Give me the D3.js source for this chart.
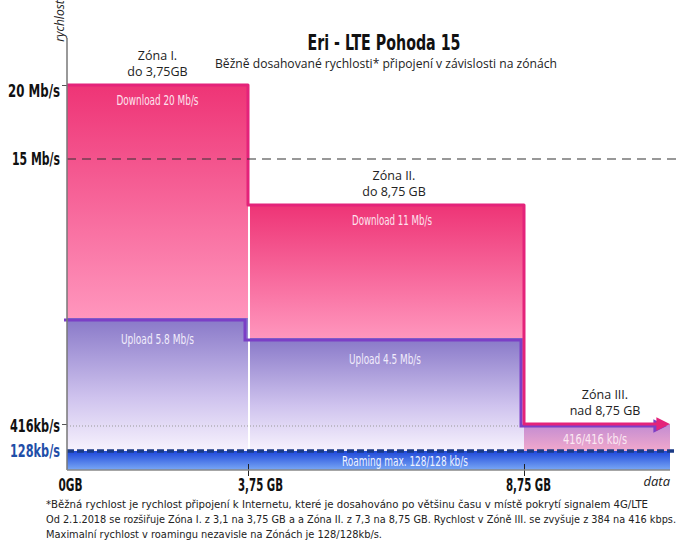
<!DOCTYPE html>
<html>
<head>
<meta charset="utf-8">
<script src="https://cdn.jsdelivr.net/npm/d3@7"></script>
<style>
  body { margin: 0; background: #fff; }
  .cond { font-family: 'Liberation Sans Narrow', 'DejaVu Sans Condensed', sans-serif; font-stretch: condensed; }
  .hum { font-family: 'Open Sans', 'Noto Sans', sans-serif; }
</style>
</head>
<body>
<div id="chart"></div>
<script>
// zones and speeds (Mb/s)
var zoneNames = ["Zóna I.", "Zóna II.", "Zóna III."]
var zoneLimits = ["do 3,75GB", "do 8,75 GB", "nad 8,75 GB"]
var zoneStart = [0, 3.75, 8.75]
var dataEnd = 11.4
var download = [20, 11, 0.416]
var upload = [5.8, 4.5, 0.416]
var downloadLabels = ["Download 20 Mb/s", "Download 11 Mb/s"]
var uploadLabels = ["Upload 5.8 Mb/s", "Upload 4.5 Mb/s"]
var zone3Label = "416/416 kb/s"
var roaming = 0.128
var roamingLabel = "Roaming max. 128/128 kb/s"

var yTicks = [20, 15, 0.416, 0.128]
var yTickLabels = ["20 Mb/s", "15 Mb/s", "416kb/s", "128kb/s"]
var xTicks = [0, 3.75, 8.75]
var xTickLabels = ["0GB", "3,75 GB", "8,75 GB"]

var footnotes = [
  "*Běžná rychlost je rychlost připojení k Internetu, které je dosahováno po většinu času v místě pokrytí signalem 4G/LTE",
  "Od 2.1.2018 se rozšiřuje Zóna I. z 3,1 na 3,75 GB a a Zóna II. z 7,3 na 8,75 GB. Rychlost  v Zóně III. se zvyšuje z 384 na 416 kbps.",
  "Maximalní rychlost v roamingu  nezavisle na Zónách je 128/128kb/s."
]

var fullWidth = 677
var fullHeight = 542

var svg = d3.select("#chart").append("svg")
  .attr("width", fullWidth)
  .attr("height", fullHeight)

// schematic (non-linear) scales, as in the original picture
var x = d3.scaleLinear()
  .domain([0, 3.75, 8.75, dataEnd])
  .range([67, 248, 524, 670])
var y = d3.scaleLinear()
  .domain([0, 0.128, 0.416, 4.5, 5.8, 11, 15, 20])
  .range([470, 451, 424, 338, 318, 205, 159, 85])

var defs = svg.append("defs")
function grad(id, stops) {
  var g = defs.append("linearGradient").attr("id", id)
    .attr("x1", 0).attr("y1", 0).attr("x2", 0).attr("y2", 1)
  stops.forEach(s => g.append("stop").attr("offset", s[0]).attr("stop-color", s[1]))
}
grad("dlGrad", [[0, "#ee3476"], [1, "#ff96bd"]])
grad("ulGrad", [[0, "#8878c8"], [0.6, "#cfc3ee"], [1, "#f7f2fd"]])
grad("z3Grad", [[0, "#c28bd2"], [1, "#f1a9cc"]])
grad("roamGrad", [[0, "#1c46da"], [1, "#7aa8f5"]])

function marker(id, color) {
  defs.append("marker").attr("id", id)
    .attr("viewBox", "0 0 10 10").attr("refX", 6).attr("refY", 5)
    .attr("markerWidth", 4.5).attr("markerHeight", 4.5).attr("orient", "auto")
    .attr("markerUnits", "strokeWidth")
    .append("path").attr("d", "M0,0L10,5L0,10z").attr("fill", color)
}
marker("arrPink", "#e4237a")
marker("arrPurple", "#7b3fc6")

var zones = [0, 1]
var zoneEnd = [3.75, 8.75, dataEnd]

// download areas
svg.selectAll(".dl").data(zones).enter().append("rect")
  .attr("class", "dl")
  .attr("x", i => x(zoneStart[i]) + (i ? 2 : 0))
  .attr("y", i => y(download[i]))
  .attr("width", i => x(zoneEnd[i]) - x(zoneStart[i]) - (i ? 2 : 0))
  .attr("height", i => y(upload[i]) - y(download[i]))
  .attr("fill", "url(#dlGrad)")

// upload areas
svg.selectAll(".ul").data(zones).enter().append("rect")
  .attr("class", "ul")
  .attr("x", i => x(zoneStart[i]) + (i ? 2 : 0))
  .attr("y", i => y(upload[i]))
  .attr("width", i => x(zoneEnd[i]) - x(zoneStart[i]) - (i ? 2 : 0))
  .attr("height", i => y(roaming) - y(upload[i]))
  .attr("fill", "url(#ulGrad)")

// zone III
svg.append("rect")
  .attr("x", x(zoneStart[2]))
  .attr("y", y(download[2]))
  .attr("width", x(dataEnd) - x(zoneStart[2]))
  .attr("height", y(roaming) - y(download[2]))
  .attr("fill", "url(#z3Grad)")

// white gap between zone I and II (upload part)
svg.append("line")
  .attr("x1", x(3.75) + 1).attr("x2", x(3.75) + 1)
  .attr("y1", y(upload[0]) + 2).attr("y2", y(roaming))
  .attr("stroke", "#fff").attr("stroke-width", 2)

// 416 kb/s dotted line
svg.append("line")
  .attr("x1", x(0)).attr("x2", x(8.75))
  .attr("y1", y(0.416) + 2).attr("y2", y(0.416) + 2)
  .attr("stroke", "#999").attr("stroke-width", 1).attr("stroke-dasharray", "1,2")

// roaming band
svg.append("rect")
  .attr("x", x(0)).attr("y", y(roaming))
  .attr("width", x(dataEnd) - x(0))
  .attr("height", y(0) - y(roaming))
  .attr("fill", "url(#roamGrad)")
svg.append("line")
  .attr("x1", x(0)).attr("x2", fullWidth)
  .attr("y1", y(roaming)).attr("y2", y(roaming))
  .attr("stroke", "#1b3b86").attr("stroke-width", 3.5)
  .attr("stroke-dasharray", "7,3")
svg.append("text")
  .attr("class", "cond")
  .attr("x", 405).attr("y", y(roaming) + 15)
  .attr("text-anchor", "middle")
  .attr("font-size", 13.5)
  .attr("fill", "#eef3ff")
  .attr("textLength", 126)
  .attr("lengthAdjust", "spacingAndGlyphs")
  .text(roamingLabel)

// step outlines
var stepLine = d3.line()
  .x(d => x(d[0])).y(d => y(d[1]))
  .curve(d3.curveStepAfter)
var ulPts = zoneStart.map((s, i) => [s, upload[i]]).concat([[dataEnd - 0.1, upload[2]]])
var dlPts = zoneStart.map((s, i) => [s, download[i]]).concat([[dataEnd - 0.1, download[2]]])

svg.append("path")
  .attr("d", stepLine(ulPts))
  .attr("transform", "translate(-3,2)")
  .attr("fill", "none")
  .attr("stroke", "#7b3fc6").attr("stroke-width", 3)
  .attr("marker-end", "url(#arrPurple)")
svg.append("path")
  .attr("d", stepLine(dlPts))
  .attr("fill", "none")
  .attr("stroke", "#e4237a").attr("stroke-width", 3)
  .attr("stroke-linejoin", "round")
  .attr("marker-end", "url(#arrPink)")

// 15 Mb/s dashed line
svg.append("line")
  .attr("x1", x(0)).attr("x2", fullWidth)
  .attr("y1", y(15)).attr("y2", y(15))
  .attr("stroke", "#333").attr("stroke-width", 1.2)
  .attr("stroke-dasharray", "9,6")

// labels in areas
var dlLen = [82, 80], ulLen = [73, 72]
svg.selectAll(".dlLabel").data(zones).enter().append("text")
  .attr("class", "cond")
  .attr("x", i => (x(zoneStart[i]) + x(zoneEnd[i])) / 2 + (i ? 6 : 0))
  .attr("y", i => y(download[i]) + 20)
  .attr("text-anchor", "middle")
  .attr("font-size", 14.5)
  .attr("fill", "#fde3ee")
  .attr("textLength", i => dlLen[i])
  .attr("lengthAdjust", "spacingAndGlyphs")
  .text(i => downloadLabels[i])
svg.selectAll(".ulLabel").data(zones).enter().append("text")
  .attr("class", "cond")
  .attr("x", i => (x(zoneStart[i]) + x(zoneEnd[i])) / 2 - (i ? 1 : 0))
  .attr("y", i => y(upload[i]) + 26)
  .attr("text-anchor", "middle")
  .attr("font-size", 14.5)
  .attr("fill", "#f1ecfb")
  .attr("textLength", i => ulLen[i])
  .attr("lengthAdjust", "spacingAndGlyphs")
  .text(i => uploadLabels[i])
svg.append("text")
  .attr("class", "cond")
  .attr("x", (x(zoneStart[2]) + x(dataEnd)) / 2 - 2)
  .attr("y", y(download[2]) + 20)
  .attr("text-anchor", "middle")
  .attr("font-size", 14)
  .attr("fill", "#fbe9f3")
  .attr("textLength", 64)
  .attr("lengthAdjust", "spacingAndGlyphs")
  .text(zone3Label)

// zone names
var zoneLab = svg.selectAll(".zoneLab").data([0, 1, 2]).enter().append("text")
  .attr("class", "hum")
  .attr("text-anchor", "middle")
  .attr("font-size", 12.5)
  .attr("fill", "#222")
zoneLab.append("tspan")
  .attr("x", i => (x(zoneStart[i]) + x(zoneEnd[i])) / 2 + (i ? 8 : 0))
  .attr("y", i => y(download[i]) - 25)
  .text(i => zoneNames[i])
zoneLab.append("tspan")
  .attr("x", i => (x(zoneStart[i]) + x(zoneEnd[i])) / 2 + (i ? 8 : 0))
  .attr("y", i => y(download[i]) - 9)
  .text(i => zoneLimits[i])

// axes
var yLen = [52, 48, 50, 50]
var yAxis = svg.append("g")
  .attr("transform", `translate(${x(0)},0)`)
  .call(d3.axisLeft(y)
    .tickValues(yTicks)
    .tickFormat((d, i) => yTickLabels[i])
    .tickSize(5)
    .tickPadding(2))
yAxis.select(".domain").remove()
yAxis.selectAll(".tick line").attr("stroke", "#555")
yAxis.selectAll(".tick text")
  .attr("class", "cond")
  .attr("font-size", 17)
  .attr("font-weight", "bold")
  .attr("fill", (d, i) => i === 3 ? "#1f4ea8" : "#111")
  .attr("dy", (d, i) => i === 0 ? "0.66em" : (i === 2 ? "0.45em" : "0.32em"))
  .attr("textLength", (d, i) => yLen[i])
  .attr("lengthAdjust", "spacingAndGlyphs")
yAxis.selectAll(".tick line").filter((d, i) => i % 2 === 1).remove()

svg.append("line")
  .attr("x1", x(0)).attr("x2", x(0))
  .attr("y1", 38).attr("y2", y(0))
  .attr("stroke", "#777").attr("stroke-width", 1.5)

var xLen = [24, 45, 45]
var xAxis = svg.append("g")
  .attr("transform", `translate(0,${y(0) - 6})`)
  .call(d3.axisBottom(x)
    .tickValues(xTicks)
    .tickFormat((d, i) => xTickLabels[i])
    .tickSize(12)
    .tickPadding(3))
xAxis.select(".domain").remove()
xAxis.selectAll(".tick line").attr("stroke", "#222").filter(d => d === 0).remove()
xAxis.selectAll(".tick text")
  .attr("class", "cond")
  .attr("font-size", 17)
  .attr("font-weight", "bold")
  .attr("fill", "#111")
  .attr("dx", (d, i) => [3, 12, 4][i])
  .attr("textLength", (d, i) => xLen[i])
  .attr("lengthAdjust", "spacingAndGlyphs")

svg.append("line")
  .attr("x1", x(0)).attr("x2", x(dataEnd))
  .attr("y1", y(0)).attr("y2", y(0))
  .attr("stroke", "#888").attr("stroke-width", 1.5)

// axis titles
svg.append("text")
  .attr("class", "hum")
  .attr("transform", "translate(64,21) rotate(-90)")
  .attr("text-anchor", "middle")
  .attr("font-size", 12)
  .attr("font-style", "italic")
  .attr("fill", "#222")
  .text("rychlost")
svg.append("text")
  .attr("class", "hum")
  .attr("x", 670).attr("y", 486)
  .attr("text-anchor", "end")
  .attr("font-size", 13)
  .attr("font-style", "italic")
  .attr("fill", "#222")
  .text("data")

// titles
svg.append("text")
  .attr("class", "cond")
  .attr("x", 384).attr("y", 50)
  .attr("text-anchor", "middle")
  .attr("font-size", 21)
  .attr("font-weight", "bold")
  .attr("fill", "#111")
  .attr("textLength", 153)
  .attr("lengthAdjust", "spacingAndGlyphs")
  .text("Eri - LTE Pohoda 15")
svg.append("text")
  .attr("class", "hum")
  .attr("x", 386).attr("y", 68)
  .attr("text-anchor", "middle")
  .attr("font-size", 12)
  .attr("fill", "#222")
  .attr("textLength", 342)
  .attr("lengthAdjust", "spacingAndGlyphs")
  .text("Běžně dosahované rychlosti* připojení v závislosti na zónách")

// footnotes
var footLen = [602, 630, 336]
svg.selectAll(".foot").data(footnotes).enter().append("text")
  .attr("class", "cond")
  .attr("x", 46)
  .attr("y", (d, i) => 508 + i * 15)
  .attr("font-size", 10.5)
  .attr("fill", "#222")
  .attr("textLength", (d, i) => footLen[i])
  .attr("lengthAdjust", "spacingAndGlyphs")
  .text(d => d)
</script>
</body>
</html>
